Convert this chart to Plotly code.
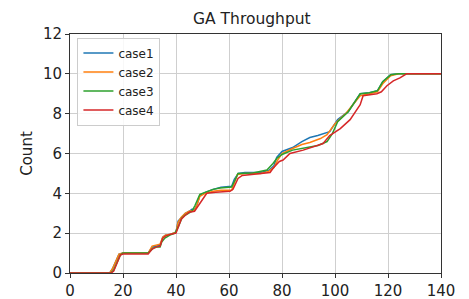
import plotly.graph_objects as go

case1_x = [0,15,16,18.5,20,29.5,31,32.5,34,35,36,38,40,40.8,42,43.5,45,46,47,48,49,51,54,57,61,62,63.5,66,72,75,77,78,80,84,87.5,90.5,93.5,98,101,105,107.5,109.5,113,116,118,121,124,140]
case1_y = [0,0,0.2,0.95,1.0,1.0,1.3,1.35,1.4,1.8,1.9,1.95,2.05,2.6,2.8,3.0,3.1,3.2,3.2,3.45,3.9,4.05,4.2,4.3,4.35,4.7,5.0,5.05,5.05,5.15,5.4,5.8,6.1,6.3,6.6,6.8,6.9,7.1,7.7,8.1,8.6,9.0,9.05,9.15,9.6,9.95,10,10]

case2_x = [0,15,16,18.5,20,29.5,31,32.5,34,35,36,38,40,40.8,42,43.5,45,47,48,49,51,54,57,61,62,63.2,66,72,75,77,78.5,80,84,87.5,90.5,94.5,97,100,104,107,109.5,113,116,118,121,124,140]
case2_y = [0,0,0.2,0.95,1.0,1.0,1.35,1.4,1.45,1.8,1.9,1.95,2.05,2.55,2.8,3.0,3.1,3.15,3.45,3.85,4.0,4.1,4.15,4.15,4.5,4.95,5.0,5.0,5.1,5.3,5.7,6.0,6.25,6.45,6.55,6.75,6.95,7.5,8.0,8.5,8.9,9.0,9.1,9.5,9.9,10,10]

case3_x = [0,15.5,16.5,19,20,29.5,31.4,32.7,34,34.6,35.8,37.7,39.6,40.8,42.2,43.4,44.7,46,47.2,48.3,49,51,54,56.6,61,62.3,63.4,69,74.3,76.6,78,80,84,90.5,93.6,97,99,101,105,107.5,109.5,113,116,118,121,124,140]
case3_y = [0,0,0.15,0.9,1.0,1.0,1.25,1.3,1.3,1.55,1.75,1.9,2.0,2.3,2.75,2.9,3.0,3.1,3.4,3.8,3.95,4.05,4.2,4.27,4.32,4.67,5.0,5.02,5.17,5.5,5.75,5.95,6.17,6.33,6.4,6.6,7.0,7.6,8.1,8.6,9.0,9.05,9.15,9.6,9.95,10,10]

case4_x = [0,15.5,16.5,19,20,29.5,31,32.5,34,35,36,38,40,41,42,43.5,45,47,48,49.8,51.6,55,60.4,61.5,63.4,65,74,75.5,76.7,79,80.4,83,88,91.7,95.5,98,102,105.7,109.5,110.6,115.8,117.5,119.6,122,124.5,127,140]
case4_y = [0,0,0.1,0.9,0.95,0.95,1.2,1.3,1.35,1.75,1.85,1.95,2.0,2.4,2.7,2.9,3.05,3.1,3.3,3.66,4.0,4.05,4.1,4.2,4.75,4.9,5.0,5.05,5.27,5.6,5.67,6.0,6.17,6.33,6.5,6.9,7.25,7.7,8.45,8.9,9.0,9.1,9.4,9.65,9.8,10,10]

names = ["case1", "case2", "case3", "case4"]
colors = ["#1f77b4", "#ff7f0e", "#2ca02c", "#d62728"]
xs = [case1_x, case2_x, case3_x, case4_x]
ys = [case1_y, case2_y, case3_y, case4_y]

x_ticks = [0, 20, 40, 60, 80, 100, 120, 140]
y_ticks = [0, 2, 4, 6, 8, 10, 12]

fig = go.Figure()
for n, c, x, y in zip(names, colors, xs, ys):
    fig.add_trace(go.Scatter(x=x, y=y, mode="lines", name=n,
                             line=dict(color=c, width=1.5)))

axis_common = dict(showgrid=True, gridcolor="#cfcfcf", gridwidth=1,
                   showline=True, linecolor="#333333", linewidth=1, mirror=True,
                   ticks="outside", ticklen=4, tickcolor="#333333",
                   zeroline=False, automargin=False,
                   tickfont=dict(size=15, color="#222222"))

fig.update_layout(
    width=469, height=299,
    margin=dict(l=62, r=36, t=26, b=34),
    paper_bgcolor="white", plot_bgcolor="white",
    font=dict(family="DejaVu Sans", color="#222222"),
    title=dict(text="GA Throughput", x=0.52, xanchor="center", y=0.965, yanchor="middle",
               font=dict(size=15.5)),
    xaxis=dict(range=[0, 140], tickvals=x_ticks, **axis_common),
    yaxis=dict(range=[0, 12], tickvals=y_ticks,
               title=dict(text="Count", font=dict(size=15), standoff=6), **axis_common),
    legend=dict(x=0.02, y=0.985, xanchor="left", yanchor="top",
                bgcolor="rgba(255,255,255,0.85)", bordercolor="#cccccc", borderwidth=1,
                font=dict(size=12), itemwidth=30, tracegroupgap=0),
    showlegend=True,
)

fig.write_html("out.html")
